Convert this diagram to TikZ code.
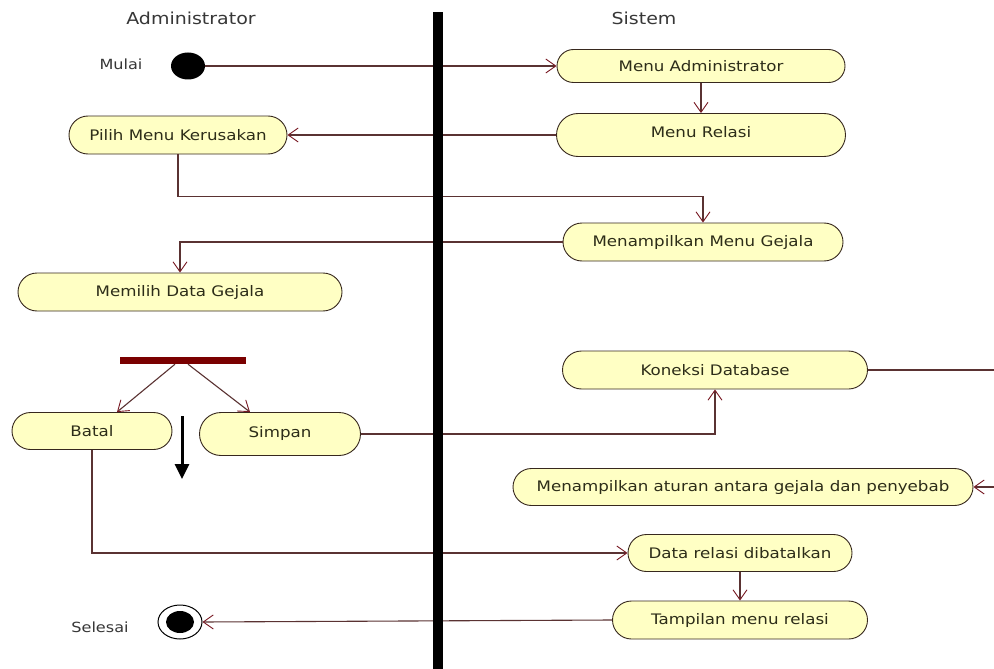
\documentclass[tikz,border=0pt]{standalone}
\usepackage{fontspec}
\setmainfont{DejaVu Sans}[FakeStretch=1.15]
\usetikzlibrary{shapes.misc,shapes.geometric,arrows.meta}
\definecolor{actfill}{RGB}{255,255,196}
\definecolor{actline}{RGB}{55,40,30}
\definecolor{flowc}{RGB}{90,50,50}
\definecolor{tipc}{RGB}{120,25,35}
\definecolor{txt}{RGB}{45,45,25}
\definecolor{forkc}{RGB}{122,0,0}
\definecolor{titlec}{RGB}{55,55,55}
\begin{document}
\begin{tikzpicture}[x=1pt,y=-1pt,
  act/.style={rounded rectangle, draw=actline, line width=0.9pt, fill=actfill,
    inner sep=0pt, text=txt, font=\fontsize{14.5}{17}\selectfont},
  flow/.style={draw=flowc, line width=1.1pt,
    -{Straight Barb[length=10pt,width=14pt,line width=0.9pt,color=tipc]}},
  plainflow/.style={draw=flowc, line width=1.1pt},
  lanetitle/.style={text=titlec, font=\fontsize{16.5}{19}\selectfont},
  marker/.style={text=titlec, font=\fontsize{14}{17}\selectfont},
  boldarrow/.style={draw=black, line width=3pt, -{Triangle[length=15pt,width=14pt]}}
]
\useasboundingbox[fill=white] (0,0) rectangle (994,669);

% swimlane titles
\node[lanetitle] (tadm) at (191,18) {Administrator};
\node[lanetitle] (tsys) at (644,18) {Sistem};

% start / end markers
\node[marker] (mulai) at (121,64) {Mulai};
\node[ellipse, fill=black, minimum width=34pt, minimum height=27pt, inner sep=0pt] (start) at (188,66) {};
\node[marker] (selesai) at (100,627) {Selesai};
\node[ellipse, draw=black, line width=1pt, fill=white, minimum width=44pt, minimum height=34pt, inner sep=0pt] (stop) at (180,622) {};
\node[ellipse, fill=black, minimum width=28pt, minimum height=22pt, inner sep=0pt] at (stop) {};

% activities
\node[act, minimum width=288pt, minimum height=33pt] (madm) at (701,66) {Menu Administrator};
\node[act, minimum width=289pt, minimum height=43pt] (mrel) at (701,135) {\raisebox{6pt}{Menu Relasi}};
\node[act, minimum width=218pt, minimum height=38pt] (pilih) at (178,135) {Pilih Menu Kerusakan};
\node[act, minimum width=280pt, minimum height=38pt] (mgej) at (703,242) {Menampilkan Menu Gejala};
\node[act, minimum width=324pt, minimum height=38pt] (mdata) at (180,292) {Memilih Data Gejala};
\node[act, minimum width=160pt, minimum height=37pt] (batal) at (92,431) {Batal};
\node[act, minimum width=161pt, minimum height=43pt] (simpan) at (280,434) {\raisebox{5pt}{Simpan}};
\node[act, minimum width=305pt, minimum height=38pt] (kon) at (715,370) {Koneksi Database};
\node[act, minimum width=460pt, minimum height=37pt] (atur) at (743,487) {Menampilkan aturan antara gejala dan penyebab};
\node[act, minimum width=224pt, minimum height=37pt] (drel) at (740,553) {Data relasi dibatalkan};
\node[act, minimum width=255pt, minimum height=38pt] (tamp) at (740,620) {Tampilan menu relasi};

% fork bar
\node[fill=forkc, minimum width=126pt, minimum height=7pt, inner sep=0pt] (fork) at (183,360.5) {};

% free ends at the right border
\coordinate (edgeA) at (994,369);
\coordinate (edgeB) at (994,487);
% loose bold arrow
\coordinate (bolda) at (182,416);
\coordinate (boldb) at (182,479);

% transitions
\draw[flow] (start.east) -- (madm.west);
\draw[flow] (madm.south) -- (mrel.north);
\draw[flow] (mrel.west) -- (pilih.east);
\draw[flow] (pilih.south) -- ++(0,42) -| (mgej.north);
\draw[flow] (mgej.west) -| (mdata.north);
\draw[flow] ([xshift=-8pt]fork.south) -- ([xshift=25pt]batal.north);
\draw[flow] ([xshift=5pt]fork.south) -- ([xshift=-30pt]simpan.north);
\draw[flow] (simpan.east) -| (kon.south);
\draw[plainflow] (kon.east) -- (kon.east -| edgeA);
\draw[flow] (edgeB) -- (atur.east);
\draw[flow] (batal.south) |- (drel.west);
\draw[flow] (drel.south) -- (tamp.north);
\draw[flow] (tamp.west) -- (stop.east);
\draw[boldarrow] (bolda) -- (boldb);

% swimlane divider
\fill[black] (433,12) rectangle (443,669);
\end{tikzpicture}
\end{document}
